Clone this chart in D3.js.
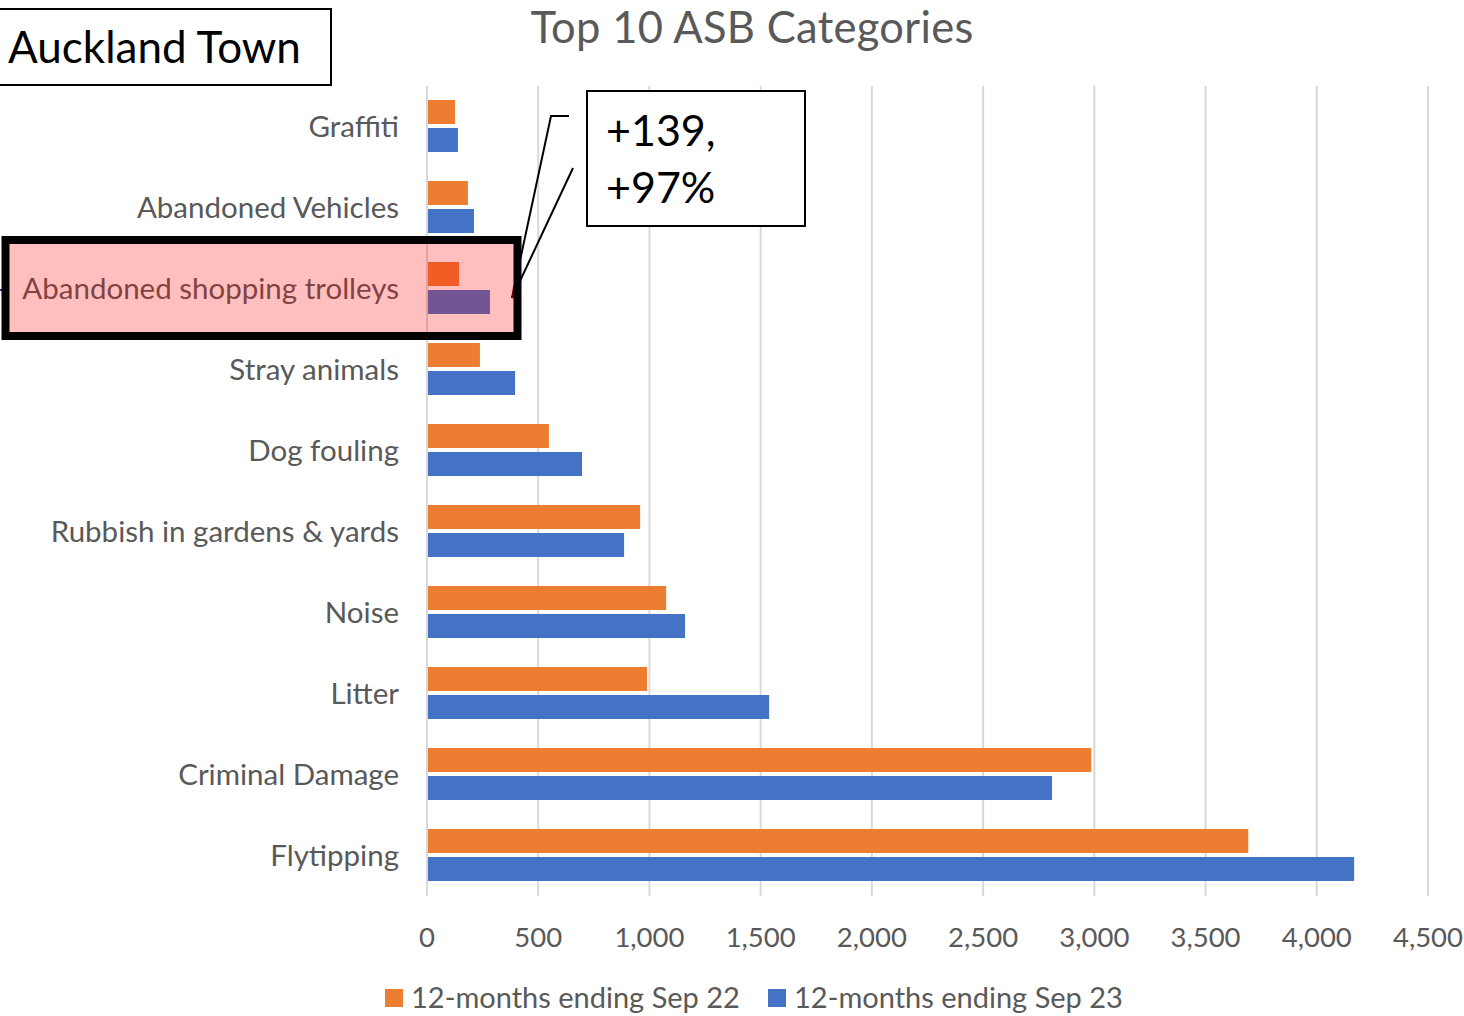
<!DOCTYPE html>
<html lang="en">
<head>
<meta charset="UTF-8">
<script src="https://d3js.org/d3.v7.min.js"></script>
<style>
  html,body{margin:0;padding:0;background:#fff;}
  svg text{font-family:'Lato','Open Sans',sans-serif;}
</style>
</head>
<body>
<div id="chart"></div>
<script>
// data (top to bottom)
var categories = ["Graffiti","Abandoned Vehicles","Abandoned shopping trolleys","Stray animals",
  "Dog fouling","Rubbish in gardens & yards","Noise","Litter","Criminal Damage","Flytipping"];
var sep22 = [126, 184, 144, 238, 548, 958, 1075, 989, 2986, 3692];
var sep23 = [139, 211, 283, 396, 697, 886, 1160, 1538, 2810, 4168];
var seriesNames = ["12-months ending Sep 22", "12-months ending Sep 23"];
var xTicks = [0, 500, 1000, 1500, 2000, 2500, 3000, 3500, 4000, 4500];
var highlight = "Abandoned shopping trolleys";
var calloutLines = ["+139,", "+97%"];

var width = 1464, height = 1016;
var colors = ["#ED7D31", "#4472C4"];

var svg = d3.select("#chart").append("svg")
  .attr("width", width)
  .attr("height", height);

var x = d3.scaleLinear().domain([0, 4500]).range([427, 1428]);
var y = d3.scaleBand().domain(categories).range([86, 896]);

// gridlines
svg.append("g").selectAll("line")
  .data(xTicks)
  .enter().append("line")
  .attr("x1", function(d){ return x(d); })
  .attr("x2", function(d){ return x(d); })
  .attr("y1", 86).attr("y2", 896)
  .style("stroke", "#D9D9D9")
  .style("stroke-width", 2);

// bars
var rows = categories.map(function(c, i){ return {cat: c, vals: [sep22[i], sep23[i]]}; });
var g = svg.append("g");
rows.forEach(function(r){
  r.vals.forEach(function(v, k){
    g.append("rect")
      .attr("x", x(0) + 1)
      .attr("y", y(r.cat) + 14 + k * 28)
      .attr("width", x(v) - x(0) - 1)
      .attr("height", 24)
      .style("fill", colors[k]);
  });
});

// category labels
svg.append("g").selectAll("text")
  .data(categories)
  .enter().append("text")
  .attr("x", 399)
  .attr("y", function(d){ return y(d) + y.bandwidth()/2; })
  .attr("dy", "0.35em")
  .attr("text-anchor", "end")
  .style("font-size", "29.5px")
  .style("fill", "#595959")
  .text(function(d){ return d; });

// x tick labels
svg.append("g").selectAll("text")
  .data(xTicks)
  .enter().append("text")
  .attr("x", function(d){ return x(d); })
  .attr("y", 937)
  .attr("dy", "0.35em")
  .attr("text-anchor", "middle")
  .style("font-size", "27.5px")
  .style("fill", "#595959")
  .text(function(d){ return d3.format(",")(d); });

// title
svg.append("text")
  .attr("x", 752).attr("y", 43)
  .attr("text-anchor", "middle")
  .style("font-size", "43.5px")
  .style("letter-spacing", "0.3px")
  .style("fill", "#595959")
  .text("Top 10 ASB Categories");

// legend
var legX = [385, 768];
seriesNames.forEach(function(n, k){
  svg.append("rect")
    .attr("x", legX[k]).attr("y", 989)
    .attr("width", 18).attr("height", 18)
    .style("fill", colors[k]);
  svg.append("text")
    .attr("x", legX[k] + 26).attr("y", 998).attr("dy", "0.35em")
    .style("font-size", "29px")
    .style("fill", "#595959")
    .text(n);
});

// town box
svg.append("rect")
  .attr("x", -2).attr("y", 9).attr("width", 333).attr("height", 76)
  .style("fill", "#fff").style("stroke", "#000").style("stroke-width", 2);
svg.append("text")
  .attr("x", 8).attr("y", 48).attr("dy", "0.35em")
  .style("font-size", "44px")
  .style("fill", "#000")
  .text("Auckland Town");

// callout
var tipX = 512, tipY = 298;
svg.append("path")
  .attr("d", "M569,116 L551,116 L" + tipX + "," + tipY)
  .style("fill", "none").style("stroke", "#000").style("stroke-width", 2);
svg.append("path")
  .attr("d", "M573,168 L" + tipX + "," + tipY)
  .style("fill", "none").style("stroke", "#000").style("stroke-width", 2);
svg.append("path")
  .attr("d", "M" + tipX + "," + tipY + " l1,-12 l6,3 z")
  .style("fill", "#6b0000");
svg.append("rect")
  .attr("x", 587).attr("y", 91).attr("width", 218).attr("height", 135)
  .style("fill", "#fff").style("stroke", "#000").style("stroke-width", 2);
calloutLines.forEach(function(t, i){
  svg.append("text")
    .attr("x", 606).attr("y", 131 + i * 57).attr("dy", "0.35em")
    .style("font-size", "43px")
    .style("fill", "#000")
    .text(t);
});

// highlight box over the trolleys row
svg.append("line")
  .attr("x1", 0).attr("x2", 9).attr("y1", 290).attr("y2", 290)
  .style("stroke", "#2a3a7a").style("stroke-width", 2);
var hy = y(highlight);
svg.append("rect")
  .attr("x", 5.5).attr("y", hy - 8)
  .attr("width", 512).attr("height", 96)
  .style("fill", "rgba(255,0,0,0.25)")
  .style("stroke", "#000")
  .style("stroke-width", 8);
</script>
</body>
</html>
